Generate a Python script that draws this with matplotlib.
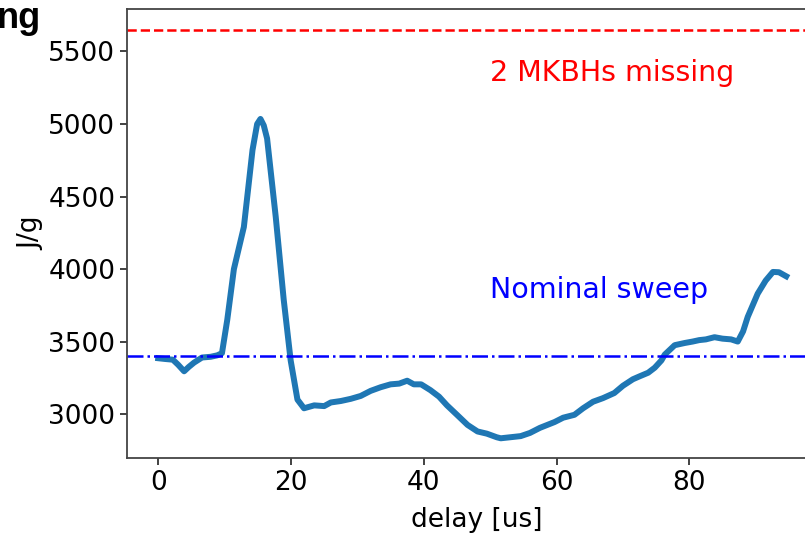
#-------------------------------------------------------------------------------
#--- (1) Data
#-------------------------------------------------------------------------------
import matplotlib
matplotlib.use('Agg')
import matplotlib.pyplot as plt

delay  = [0, 1, 2.2, 3.0, 3.9, 4.6, 5.4, 6.6, 7.9, 8.9, 9.6, 10.4, 11.4, 12.9,
          14.2, 14.9, 15.4, 15.9, 16.4, 17.7, 18.9, 19.95, 20.97, 21.96, 23.5,
          25, 26, 27.5, 29, 30.5, 32, 33.5, 35, 36.3, 37.5, 38.5, 39.6, 41,
          42.3, 43.5, 45, 46.6, 48.1, 49.5, 51, 51.6, 53, 54.6, 56, 57.5, 59.7,
          61, 62.7, 64, 65.5, 67, 68.7, 70, 71.5, 72.5, 73.8, 74.8, 75.8, 76.3,
          77.8, 79.3, 80.5, 81.5, 82.5, 83.8, 85, 86.3, 87.3, 88.1, 88.8, 90.3,
          91.5, 92.6, 93.5, 94.6]
jpg    = [3385, 3380, 3375, 3340, 3295, 3325, 3355, 3390, 3395, 3405, 3420,
          3650, 4000, 4290, 4820, 5000, 5035, 4990, 4900, 4360, 3790, 3370,
          3100, 3040, 3060, 3055, 3080, 3090, 3105, 3125, 3160, 3185, 3205,
          3210, 3230, 3205, 3205, 3165, 3120, 3060, 2995, 2925, 2880, 2865,
          2840, 2833, 2840, 2848, 2870, 2905, 2945, 2975, 2995, 3040, 3085,
          3110, 3145, 3195, 3240, 3260, 3285, 3320, 3370, 3410, 3475, 3490,
          3500, 3510, 3515, 3530, 3520, 3515, 3500, 3570, 3670, 3830, 3920,
          3980, 3978, 3950]

missing_lvl = 5650
nominal_lvl = 3400
missing_lab = '2 MKBHs missing'
nominal_lab = 'Nominal sweep'

#-------------------------------------------------------------------------------
#--- (2) Plot
#-------------------------------------------------------------------------------
fig = plt.figure(figsize=(8.05, 5.36), dpi=100)
ax  = fig.add_axes([0.1578, 0.1455, 0.87, 0.8377])

ax.plot(delay, jpg, color='#1f77b4', linewidth=4.3)
ax.axhline(missing_lvl, color='r', linestyle='--', linewidth=1.8)
ax.axhline(nominal_lvl, color='b', linestyle='-.', linewidth=1.8)
ax.text(50, 5300, missing_lab, color='r', fontsize=20.5)
ax.text(50, 3800, nominal_lab, color='b', fontsize=20.5)

ax.set_xlim(-4.7, 100.8)
ax.set_ylim(2697, 5793)
ax.set_xticks([0, 20, 40, 60, 80])
ax.set_yticks([3000, 3500, 4000, 4500, 5000, 5500])
ax.tick_params(labelsize=19, width=1.3, length=5, color='#333333')
for s in ax.spines.values():
    s.set_linewidth(1.3)
    s.set_color('#444444')
ax.spines['right'].set_visible(False)
ax.set_xlabel('delay [us]', fontsize=19, labelpad=8)
ax.set_ylabel('J/g', fontsize=19, labelpad=3)

# title clipped at the left edge in the original
fig.text(41/805, 1 - 28/536, 'ng', fontsize=26, fontweight='bold',
         ha='right', va='baseline', family='Liberation Sans')

fig.savefig('out.png', dpi=100)
